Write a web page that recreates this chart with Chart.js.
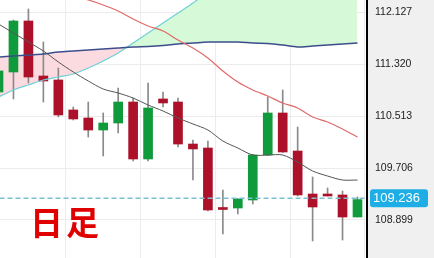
<!DOCTYPE html>
<html><head><meta charset="utf-8">
<script src="https://cdn.jsdelivr.net/npm/chart.js@4.4.0/dist/chart.umd.min.js"></script>
<style>html,body{margin:0;padding:0;background:#fff;overflow:hidden}#wrap{width:434px;height:258px;position:relative}canvas{display:block}</style>
</head><body><div id="wrap"><canvas id="c" width="434" height="258" style="width:434px;height:258px"></canvas></div>
<script>
// ---- data ----
const candleIndex = [0,1,2,3,4,5,6,7,8,9,10,11,12,13,14,15,16,17,18,19,20,21,22,23,24];
const opens  = [110.890,111.201,111.995,111.139,111.077,110.610,110.485,110.298,110.407,110.734,109.847,110.781,110.734,110.080,110.018,109.069,109.084,109.209,109.909,110.563,109.971,109.302,109.302,109.287,108.944];
const highs  = [111.250,112.010,112.182,111.668,111.263,110.656,110.734,110.563,110.952,110.796,111.030,110.890,110.796,110.143,110.127,109.364,109.230,109.920,110.812,110.921,110.345,109.567,109.396,109.349,109.256];
const lows   = [110.850,110.781,111.030,110.734,110.501,110.454,110.189,109.894,110.252,109.816,109.816,110.656,110.034,109.520,109.038,108.680,108.991,109.147,109.900,109.950,109.271,108.571,109.271,108.586,108.944];
const closes = [111.217,111.995,111.123,111.061,110.532,110.470,110.298,110.407,110.734,109.847,110.641,110.719,110.080,110.003,109.053,109.061,109.224,109.909,110.563,109.956,109.287,109.100,109.271,108.944,109.215];
const maShort = [111.948,111.808,111.668,111.528,111.357,111.201,111.061,110.936,110.874,110.796,110.687,110.594,110.485,110.392,110.298,110.127,110.018,109.909,109.909,109.909,109.800,109.660,109.582,109.520,109.520];
const maMid   = [112.711,112.648,112.586,112.524,112.462,112.384,112.322,112.244,112.150,112.026,111.917,111.839,111.699,111.575,111.419,111.217,111.045,110.921,110.827,110.718,110.641,110.501,110.423,110.314,110.189];
const spanB   = [111.434,111.450,111.466,111.481,111.512,111.528,111.543,111.559,111.575,111.590,111.598,111.613,111.637,111.652,111.668,111.668,111.668,111.652,111.645,111.621,111.590,111.606,111.621,111.637,111.652];
const spanA   = [110.812,110.921,110.999,111.076,111.123,111.170,111.263,111.372,111.497,111.652,111.808,111.964,112.119,112.275,112.446,112.602,112.726,112.835,112.913,112.975,113.022,113.053,113.069,113.069,113.069];
const yTickValues = [112.127, 111.320, 110.513, 109.706, 108.899];
const xGridTicks = [2, 7, 12, 17, 22];
const lastPrice = 109.236;
const chartLabel = '日足';

const UP = '#0f9b3b', DOWN = '#ad1029';

const bgPlugin = {
  id: 'bg',
  beforeDraw(chart) {
    const { ctx, width, height, chartArea } = chart;
    ctx.save();
    ctx.fillStyle = '#ffffff';
    ctx.fillRect(0, 0, width, height);
    ctx.fillStyle = '#f0f0f0';
    ctx.fillRect(chartArea.right, 0, width - chartArea.right, height);
    ctx.restore();
  }
};
const overlayPlugin = {
  id: 'overlay',
  afterDraw(chart) {
    const { ctx, chartArea } = chart;
    const y = chart.scales.y.getPixelForValue(lastPrice);
    ctx.save();
    const bx = chartArea.right + 3, bw = 58, bh = 18;
    ctx.fillStyle = '#1eaee6';
    ctx.beginPath();
    if (ctx.roundRect) ctx.roundRect(bx, y - bh / 2, bw, bh, 3); else ctx.rect(bx, y - bh / 2, bw, bh);
    ctx.fill();
    ctx.fillStyle = '#ffffff';
    ctx.font = '13px "Liberation Sans", Arial, sans-serif';
    ctx.textBaseline = 'middle';
    ctx.textAlign = 'left';
    ctx.fillText(lastPrice.toFixed(3), bx + 3, y + 0.5);
    ctx.fillStyle = '#e00000';
    ctx.font = 'bold 33px "Noto Sans CJK JP", sans-serif';
    try { ctx.letterSpacing = '3px'; } catch (e) {}
    ctx.textBaseline = 'middle';
    ctx.fillText(chartLabel, 30, 222);
    ctx.restore();
  }
};

const pts = arr => candleIndex.map((x, i) => ({ x, y: arr[i] }));

new Chart(document.getElementById('c'), {
  type: 'bar',
  data: {
    datasets: [
      { type: 'line', label: 'price', data: [{ x: -1, y: lastPrice }, { x: 26, y: lastPrice }],
        borderColor: '#7cc0d0', borderDash: [5, 3], borderWidth: 1.5, pointRadius: 0, order: 0 },
      { type: 'line', label: 'MA short', data: pts(maShort), borderColor: '#555555', borderWidth: 1, pointRadius: 0, tension: 0.3, order: 1 },
      { type: 'line', label: 'MA mid', data: pts(maMid), borderColor: '#e06a6a', borderWidth: 1.2, pointRadius: 0, tension: 0.3, order: 2 },
      { type: 'line', label: 'Span B', data: pts(spanB), borderColor: '#3c4d8c', borderWidth: 1.5, pointRadius: 0, tension: 0.3, order: 3 },
      { type: 'line', label: 'Span A', data: pts(spanA), borderColor: '#6fd0d8', borderWidth: 1.2, pointRadius: 0, tension: 0.3, order: 4,
        fill: { target: 3, above: 'rgb(214,249,216)', below: 'rgb(252,219,224)' } },
      { type: 'bar', label: 'wick', data: candleIndex.map((x, i) => ({ x, y: [lows[i], highs[i]] })),
        backgroundColor: '#8a8a8a', barThickness: 1, grouped: false, order: 6 },
      { type: 'bar', label: 'body', data: candleIndex.map((x, i) => ({ x, y: [opens[i], closes[i]] })),
        backgroundColor: candleIndex.map(i => closes[i] >= opens[i] ? UP : DOWN),
        barThickness: 9, grouped: false, minBarLength: 2, order: 5 }
    ]
  },
  options: {
    responsive: false,
    animation: false,
    devicePixelRatio: 1,
    layout: { padding: 0 },
    plugins: { legend: { display: false }, tooltip: { enabled: false }, filler: { drawTime: 'beforeDatasetsDraw' } },
    scales: {
      x: {
        type: 'linear', min: 0.1003, max: 24.636, offset: false,
        afterBuildTicks: s => { s.ticks = xGridTicks.map(v => ({ value: v })); },
        ticks: { display: false },
        grid: { color: '#ececec', drawTicks: false },
        border: { display: false },
        afterFit: s => { s.height = 0; s.paddingLeft = 0; s.paddingRight = 0; }
      },
      y: {
        position: 'right', min: 108.306, max: 112.3216,
        afterBuildTicks: s => { s.ticks = yTickValues.map(v => ({ value: v })); },
        ticks: { color: '#222222', font: { family: '"Liberation Sans", Arial, sans-serif', size: 10.5 }, padding: 8,
                 callback: v => Number(v).toFixed(3) },
        grid: { color: '#ececec', drawTicks: false },
        border: { color: '#000000', width: 2 },
        afterFit: s => { s.width = 67; s.paddingTop = 0; s.paddingBottom = 0; }
      }
    }
  },
  plugins: [bgPlugin, overlayPlugin]
});
</script>
</body></html>
